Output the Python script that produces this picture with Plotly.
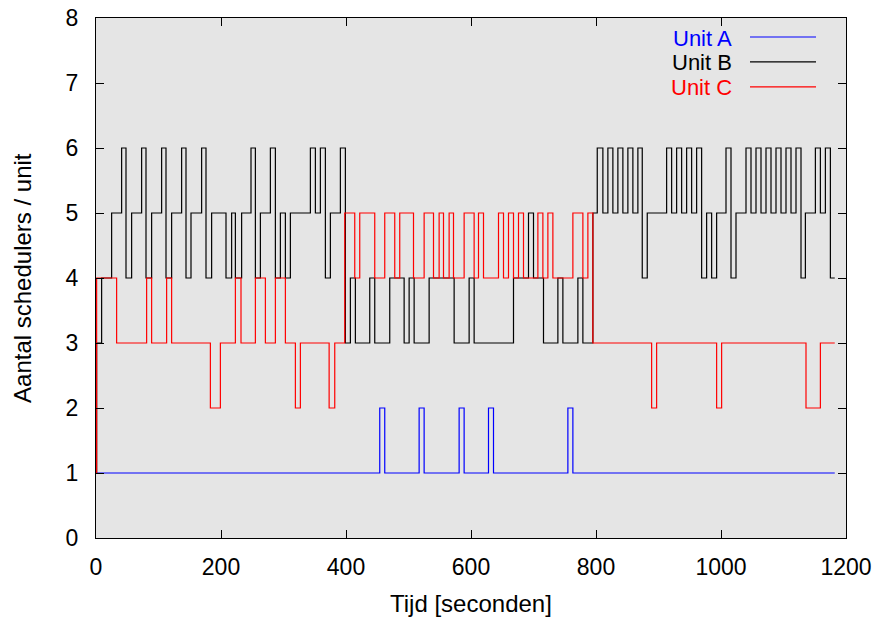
import plotly.graph_objects as go

# ---- data ----
unit_a_t = [0, 454, 462, 517, 525, 581, 589, 628, 636, 755, 763, 1182]
unit_a_v = [1, 2, 1, 2, 1, 2, 1, 2, 1, 2, 1, 1]

unit_b_t = [0, 1, 9, 25, 41, 48, 57, 73, 80, 89, 105, 112, 121, 137, 144, 152, 169, 176,
            185, 208, 217, 223, 233, 248, 255, 263, 279, 287, 295, 303, 311, 343, 351, 359,
            367, 375, 391, 399, 407, 415, 438, 446, 470, 493, 501, 509, 533, 573, 597, 605,
            668, 692, 700, 716, 739, 747, 771, 779, 795, 802, 811, 819, 827, 835, 843, 851,
            859, 867, 874, 882, 913, 921, 929, 937, 945, 953, 961, 969, 977, 985, 993, 1008,
            1016, 1024, 1040, 1048, 1056, 1064, 1072, 1080, 1088, 1096, 1104, 1112, 1120,
            1128, 1135, 1151, 1159, 1167, 1175, 1182]
unit_b_v = [1, 3, 4, 5, 6, 4, 5, 6, 4, 5, 6, 4, 5, 6, 4, 5, 6, 4,
            5, 4, 5, 4, 5, 6, 4, 5, 6, 4, 5, 4, 5, 6, 5, 6,
            4, 5, 6, 3, 4, 3, 4, 3, 4, 3, 4, 3, 4, 3, 4, 3,
            4, 5, 4, 3, 4, 3, 4, 3, 5, 6, 5, 6, 5, 6, 5, 6,
            5, 6, 4, 5, 6, 5, 6, 5, 6, 5, 6, 4, 5, 4, 5, 6,
            4, 5, 6, 5, 6, 5, 6, 5, 6, 5, 6, 5, 6,
            4, 5, 6, 5, 6, 4, 4]

unit_c_t = [0, 1, 33, 81, 89, 113, 121, 183, 199, 223, 232, 255, 271, 287, 303, 319, 327,
            373, 382, 398, 414, 422, 446, 462, 478, 486, 508, 525, 540, 549, 556, 565, 572,
            589, 605, 612, 620, 644, 652, 660, 668, 676, 684, 707, 715, 723, 731, 763, 779,
            787, 795, 889, 897, 993, 1001, 1136, 1159, 1182]
unit_c_v = [1, 4, 3, 4, 3, 4, 3, 2, 3, 4, 3, 4, 3, 4, 3, 2, 3,
            2, 3, 5, 4, 5, 4, 5, 4, 5, 4, 5, 4, 5, 4, 5, 4,
            5, 4, 5, 4, 5, 4, 5, 4, 5, 4, 5, 4, 5, 4, 5, 4,
            5, 3, 2, 3, 2, 3, 2, 3, 3]

series_names = ["Unit A", "Unit B", "Unit C"]
series_colors = ["#0000ff", "#000000", "#ff0000"]

x_ticks = [0, 200, 400, 600, 800, 1000, 1200]
y_ticks = [0, 1, 2, 3, 4, 5, 6, 7, 8]

FONT = "Liberation Sans, Arial, Helvetica, sans-serif"

fig = go.Figure()
for (t, v), name, col in zip([(unit_a_t, unit_a_v), (unit_b_t, unit_b_v), (unit_c_t, unit_c_v)],
                             series_names, series_colors):
    fig.add_trace(go.Scatter(x=t, y=v, mode="lines", name=name,
                             line=dict(color=col, width=1.2, shape="hv"),
                             showlegend=False))

# gnuplot-style legend: coloured text at right, line sample after it
legend_y = [0.9615, 0.9135, 0.8654]
for name, col, ly in zip(series_names, series_colors, legend_y):
    fig.add_annotation(x=0.8493, y=ly, xref="paper", yref="paper", text=name,
                       showarrow=False, xanchor="right", yanchor="middle", borderpad=0,
                       font=dict(family=FONT, size=22, color=col))
    fig.add_shape(type="line", xref="paper", yref="paper", x0=0.872, x1=0.96,
                  y0=ly + 0.002, y1=ly + 0.002, line=dict(color=col, width=1.2))

fig.add_annotation(x=0.5, y=-0.125, xref="paper", yref="paper", text="Tijd [seconden]",
                   showarrow=False, xanchor="center", yanchor="middle",
                   font=dict(family=FONT, size=24, color="black"))
fig.add_annotation(x=-0.0987, y=0.5, xref="paper", yref="paper", text="Aantal schedulers / unit",
                   showarrow=False, xanchor="center", yanchor="middle", textangle=-90,
                   font=dict(family=FONT, size=24, color="black"))

axis_common = dict(showline=True, mirror="ticks", linecolor="black", linewidth=1,
                   ticks="inside", ticklen=8, tickcolor="black", tickwidth=1,
                   showgrid=False, zeroline=False, automargin=False,
                   tickfont=dict(family=FONT, size=23, color="black"))

fig.update_layout(
    template="none",
    width=881, height=617,
    margin=dict(l=96, r=35, t=18, b=79, autoexpand=False),
    paper_bgcolor="white", plot_bgcolor="#e5e5e5",
    xaxis=dict(range=[0, 1200], tickvals=x_ticks, ticklabelstandoff=8, **axis_common),
    yaxis=dict(range=[0, 8], tickvals=y_ticks, ticklabelstandoff=12, **axis_common),
)

fig.write_html("out.html")
